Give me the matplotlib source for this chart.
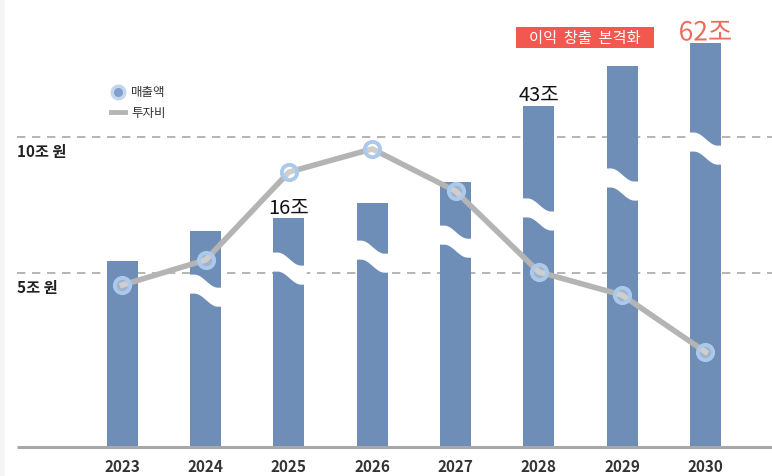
import numpy as np
import matplotlib.pyplot as plt
import matplotlib.patheffects as pe
from matplotlib.lines import Line2D
from matplotlib.patches import Rectangle

plt.rcParams['font.family'] = ['Noto Sans CJK KR', 'DejaVu Sans']

# data (bar heights are the displayed, broken-axis heights in 조 units of the grid)
years = ['2023', '2024', '2025', '2026', '2027', '2028', '2029', '2030']
bar_heights = [5.44, 6.54, 7.02, 7.57, 8.35, 11.14, 12.61, 13.46]
break_at = [None, 4.96, 5.77, 6.21, 6.76, 7.76, 8.86, 10.18]
investment = [4.56, 5.48, 8.71, 9.56, 8.01, 5.04, 4.19, 2.10]
bar_labels = {2: '16조', 5: '43조'}
grid_values = [5, 10]
grid_labels = ['5조 원', '10조 원']

bar_color = '#6e8db7'
line_color = '#b4b4b4'
ring_color = '#abc9ea'
red = '#f2584f'

fig = plt.figure(figsize=(7.72, 4.77), dpi=100)
ax = fig.add_axes([0, 0, 1, 1])
ax.set_xlim(-1.47, 7.80)
ax.set_ylim(-2.46, 15.07)
ax.axis('off')

# faint strip on left edge
fig.add_artist(Rectangle((0, 0), 5 / 772, 1, transform=fig.transFigure,
                         fc='#f5f5f5', ec='none'))

base = -1.40
x = np.arange(len(years))
width = 0.372

ax.bar(x, np.array(bar_heights) - base, bottom=base, width=width,
       color=bar_color, zorder=2)

# wavy white break bands
drop, thick = 0.48, 0.70
for xi, b in zip(x, break_at):
    if b is None:
        continue
    xs = np.linspace(xi - width / 2 - 0.02, xi + width / 2 + 0.02, 60)
    t = np.clip((xs - (xi - width / 2)) / width, 0, 1)
    s = 0.5 - 0.5 * np.cos(np.pi * np.clip((t - 0.12) / 0.76, 0, 1))
    top = b - drop * s
    ax.fill_between(xs, top - thick, top, color='white', lw=0, zorder=3)

# grid lines and baseline
x0 = -1.47 + 17 / 83.3
for gv, gl in zip(grid_values, grid_labels):
    ax.plot([x0, 7.8], [gv, gv], color='#a8a8a8', lw=1.2, ls=(0, (5, 4)), zorder=1)
    ax.text(x0, gv - 0.22, gl, ha='left', va='top', fontsize=11,
            fontweight='bold', color='#222222')
ax.plot([x0, 7.8], [base, base], color='#a8a8a8', lw=2.2, zorder=4,
        solid_capstyle='butt')

# investment line
ax.plot(x, investment, color=line_color, lw=4, zorder=5)
ax.plot(x, investment, ls='none', marker='o', ms=11, mfc=(1, 1, 1, 0.35),
        mec=ring_color, mew=2.8, zorder=6)

# year labels
for xi, yr in zip(x, years):
    ax.text(xi, base - 0.68, yr, ha='center', va='center', fontsize=11,
            fontweight='bold', color='#333333')

# value labels
for i, lab in bar_labels.items():
    ax.text(x[i], bar_heights[i] + 0.02, lab, ha='center', va='bottom',
            fontsize=14.5, color='#111111')
t62 = ax.text(x[7], 13.82, '62조', ha='center', va='center',
              fontsize=19, color='#f06a5c', zorder=7)
t62.set_path_effects([pe.Stroke(linewidth=3, foreground='white'), pe.Normal()])

# highlight box
ax.add_patch(Rectangle((4.73, 13.27), 1.65, 0.77, fc=red, ec='none', zorder=7))
ax.text(5.555, 13.65, '이익  창출  본격화', ha='center', va='center',
        fontsize=11, color='white', zorder=8)

# legend
fig.add_artist(Line2D([118 / 772], [1 - 93 / 477], marker='o', ms=9,
                      mfc='#7f9fcc', mec='#c3d6ee', mew=2.5, ls='none'))
fig.add_artist(Line2D([111 / 772, 125 / 772], [1 - 113 / 477] * 2,
                      color=line_color, lw=3.5))
fig.text(131 / 772, 1 - 93 / 477, '매출액', ha='left', va='center',
         fontsize=9, color='#333333')
fig.text(131 / 772, 1 - 113 / 477, '투자비', ha='left', va='center',
         fontsize=9, color='#333333')

fig.savefig('out.png', dpi=100, facecolor='white')
